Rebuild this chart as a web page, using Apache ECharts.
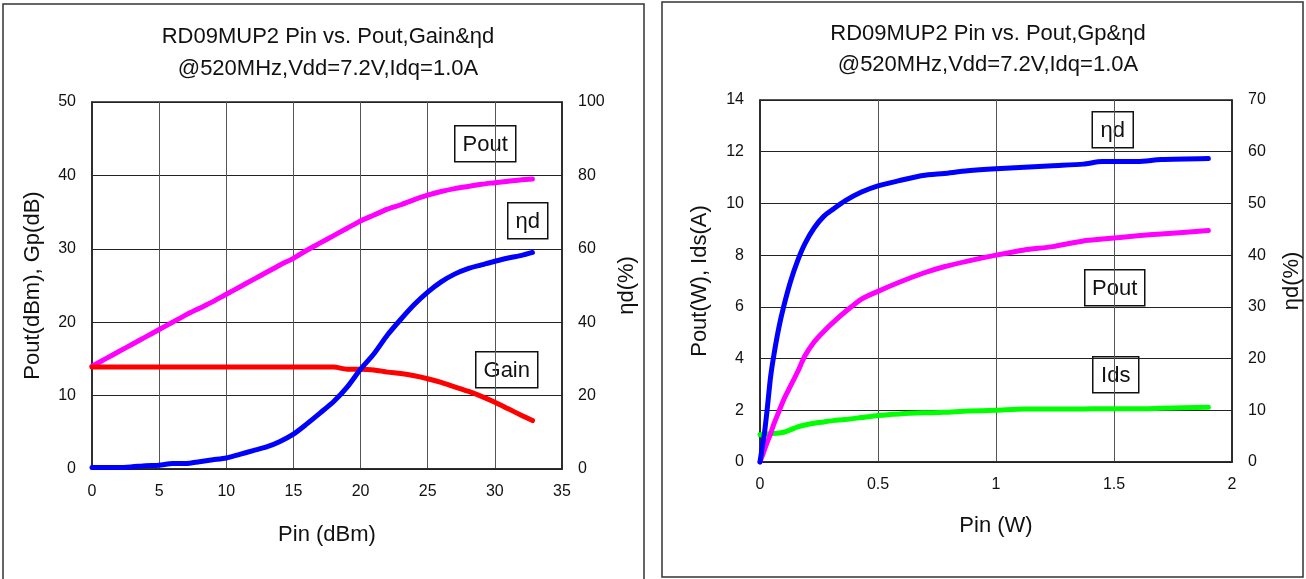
<!DOCTYPE html>
<html><head><meta charset="utf-8">
<script src="https://cdn.jsdelivr.net/npm/echarts@6/dist/echarts.min.js"></script>
<style>html,body{margin:0;padding:0;background:#fff}#c{width:1306px;height:579px}</style>
</head><body><div id="c"></div>
<script>
// ---- Left chart: Pin (dBm) sweep ----
const pinDbm  = [0,1,2,3,4,5,6,7,8,9,10,11,12,13,14,15,16,17,18,19,20,21,22,23,24,25,26,27,28,29,30,31,32,32.8];
const poutDbm = [14.0,15.0,16.0,17.0,18.0,19.0,20.0,21.0,21.9,22.8,23.8,24.8,25.8,26.8,27.8,28.7,29.8,30.8,31.8,32.8,33.8,34.6,35.4,36.0,36.7,37.3,37.8,38.2,38.5,38.8,39.0,39.2,39.4,39.5];
const gainDb  = [13.9,13.9,13.9,13.9,13.9,13.9,13.9,13.9,13.9,13.9,13.9,13.9,13.9,13.9,13.9,13.9,13.9,13.9,13.9,13.6,13.6,13.5,13.2,13.0,12.7,12.3,11.8,11.2,10.6,9.9,9.1,8.2,7.3,6.6];
const effL    = [0.4,0.4,0.4,0.6,0.9,1.0,1.5,1.5,2.0,2.5,3.0,4.0,5.0,6.0,7.5,9.5,12.3,15.3,18.4,22.3,27.2,31.4,36.5,40.8,44.8,48.2,51.0,53.1,54.6,55.6,56.6,57.5,58.2,59.0];
// ---- Right chart: Pin (W) sweep ----
const pinW  = [0,0.01,0.02,0.03,0.045,0.06,0.08,0.1,0.13,0.16,0.19,0.23,0.27,0.31,0.36,0.43,0.5,0.59,0.69,0.78,0.88,1.0,1.12,1.24,1.37,1.45,1.6,1.7,1.9];
const poutW = [0,0.25,0.5,0.75,1.1,1.5,1.95,2.4,2.95,3.5,4.1,4.65,5.05,5.4,5.8,6.3,6.6,6.95,7.3,7.55,7.77,8.0,8.2,8.33,8.55,8.62,8.75,8.82,8.95];
const idsA  = [1.05,1.06,1.07,1.08,1.1,1.1,1.12,1.15,1.25,1.36,1.43,1.5,1.55,1.6,1.64,1.72,1.8,1.86,1.9,1.92,1.97,2.0,2.05,2.05,2.05,2.06,2.06,2.08,2.12];
const effR  = [0,3,6,10,16.5,21,26,30,35,39,42.2,45.3,47.5,48.9,50.5,52.2,53.4,54.4,55.4,55.8,56.3,56.7,57.0,57.3,57.6,58.1,58.1,58.5,58.7];

const zip = (xs, ys) => xs.map((x, i) => [x, ys[i]]);
const FONT = "'Liberation Sans', Arial, sans-serif";
const TXT = '#111';

function xAx(gi, max, interval, name, gap) {
  return {
    type: 'value', gridIndex: gi, min: 0, max: max, interval: interval,
    name: name, nameLocation: 'middle', nameGap: gap,
    nameTextStyle: { fontFamily: FONT, fontSize: 22, color: TXT },
    axisLine: { show: true, lineStyle: { color: '#222', width: 1.5 } },
    axisTick: { show: false },
    axisLabel: { fontFamily: FONT, fontSize: 16, color: TXT, margin: 15 },
    splitLine: { show: true, lineStyle: { color: '#555', width: 1 } }
  };
}
function yAx(gi, max, interval, name, gap, pos, split) {
  return {
    type: 'value', gridIndex: gi, min: 0, max: max, interval: interval, position: pos,
    name: name, nameLocation: 'middle', nameGap: gap, nameRotate: 90,
    nameTextStyle: { fontFamily: FONT, fontSize: 22, color: TXT },
    axisLine: { show: true, lineStyle: { color: '#222', width: 1.5 } },
    axisTick: { show: false },
    axisLabel: { fontFamily: FONT, fontSize: 16, color: TXT, margin: 16 },
    splitLine: { show: split, lineStyle: { color: '#222', width: 1 } }
  };
}
function line(name, xi, yi, data, color) {
  return {
    name: name, type: 'line', xAxisIndex: xi, yAxisIndex: yi, data: data,
    showSymbol: false, smooth: 0.25, clip: false,
    lineStyle: { color: color, width: 5, cap: 'round', join: 'round' },
    itemStyle: { color: color }
  };
}
function box(cx, cy, w, h, label) {
  return {
    type: 'group', left: cx - w / 2, top: cy - h / 2,
    children: [
      { type: 'rect', shape: { x: 0, y: 0, width: w, height: h },
        style: { fill: '#fff', stroke: '#111', lineWidth: 1.5 } },
      { type: 'text', x: w / 2, y: h / 2 + 1,
        style: { text: label, fontFamily: FONT, fontSize: 22, fill: '#111',
                 textAlign: 'center', textVerticalAlign: 'middle' } }
    ]
  };
}
const titleStyle = { fontFamily: FONT, fontSize: 22, fontWeight: 'normal', color: TXT };

const chart = echarts.init(document.getElementById('c'), null, { renderer: 'canvas' });
chart.setOption({
  backgroundColor: '#fff',
  animation: false,
  title: [
    { text: 'RD09MUP2 Pin vs. Pout,Gain&ηd', left: 323, top: 21, textAlign: 'center', textStyle: titleStyle },
    { text: '@520MHz,Vdd=7.2V,Idq=1.0A', left: 323, top: 53, textAlign: 'center', textStyle: titleStyle },
    { text: 'RD09MUP2 Pin vs. Pout,Gp&ηd', left: 983, top: 18, textAlign: 'center', textStyle: titleStyle },
    { text: '@520MHz,Vdd=7.2V,Idq=1.0A', left: 983, top: 49, textAlign: 'center', textStyle: titleStyle }
  ],
  grid: [
    { left: 92, top: 102, width: 470, height: 367, show: true, borderColor: '#222', borderWidth: 1.5, backgroundColor: 'transparent' },
    { left: 760, top: 100, width: 472, height: 362, show: true, borderColor: '#222', borderWidth: 1.5, backgroundColor: 'transparent' }
  ],
  xAxis: [
    xAx(0, 35, 5, 'Pin (dBm)', 55),
    xAx(1, 2, 0.5, 'Pin (W)', 53)
  ],
  yAxis: [
    yAx(0, 50, 10, 'Pout(dBm), Gp(dB)', 48, 'left', true),
    yAx(0, 100, 20, 'ηd(%)', 54, 'right', false),
    yAx(1, 14, 2, 'Pout(W), Ids(A)', 49, 'left', true),
    yAx(1, 70, 10, 'ηd(%)', 49, 'right', false)
  ],
  series: [
    line('Pout', 0, 0, zip(pinDbm, poutDbm), '#ff00ff'),
    line('Gain', 0, 0, zip(pinDbm, gainDb), '#ff0000'),
    line('ηd', 0, 1, zip(pinDbm, effL), '#0000ff'),
    line('Ids', 1, 2, zip(pinW, idsA), '#00ff00'),
    line('Pout', 1, 2, zip(pinW, poutW), '#ff00ff'),
    line('ηd', 1, 3, zip(pinW, effR), '#0000ff')
  ],
  graphic: [
    { type: 'rect', shape: { x: 3, y: 4, width: 641, height: 580 }, style: { fill: 'none', stroke: '#333', lineWidth: 1.5 }, silent: true },
    { type: 'rect', shape: { x: 662, y: 2, width: 641, height: 575 }, style: { fill: 'none', stroke: '#333', lineWidth: 1.5 }, silent: true },
    box(484.5, 143, 61, 36, 'Pout'),
    box(527, 220, 40, 36, 'ηd'),
    box(506, 369, 62, 36, 'Gain'),
    box(1112, 129, 41, 36, 'ηd'),
    box(1114, 287, 60, 36, 'Pout'),
    box(1115, 374, 46, 36, 'Ids')
  ]
});
</script>
</body></html>
